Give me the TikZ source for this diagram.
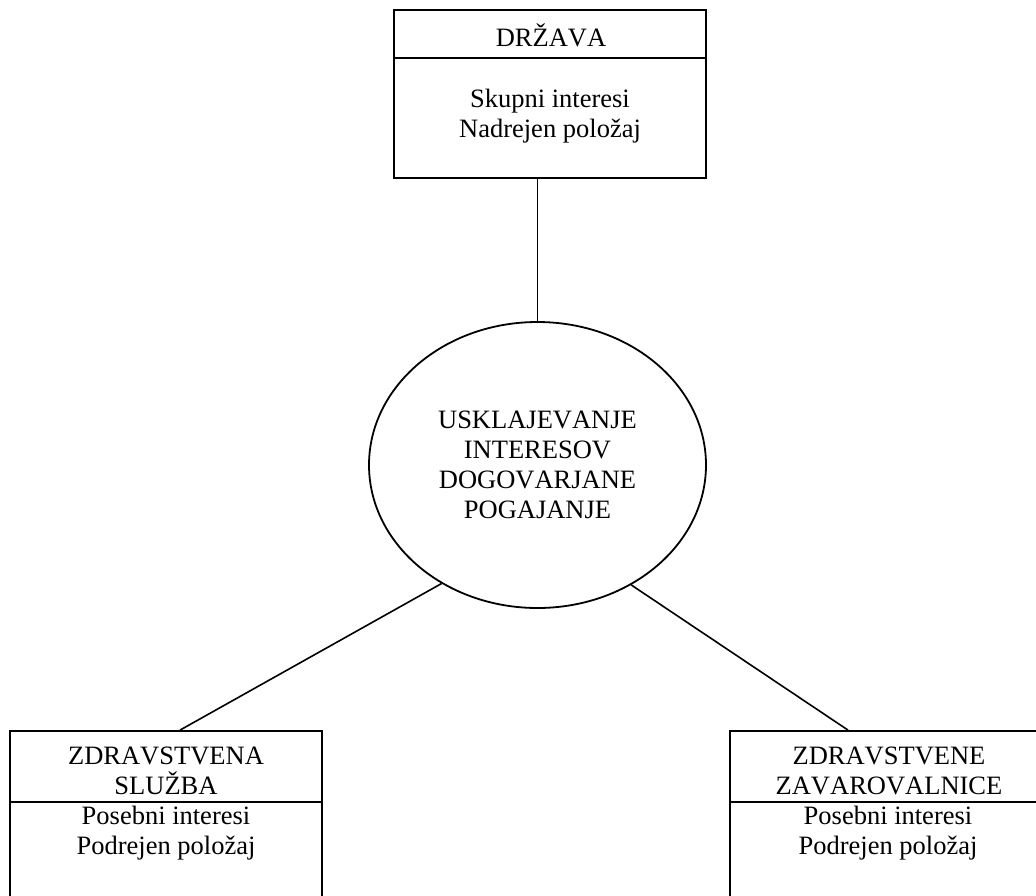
\documentclass[tikz,border=0pt]{standalone}
\usepackage{fontspec}
\setmainfont{Liberation Serif}[Kerning=Off]
\usetikzlibrary{shapes.geometric}

\tikzset{
  frame/.style={draw, line width=1.8pt, rectangle, inner sep=0pt},
  oval/.style={draw, line width=1.8pt, ellipse, inner sep=0pt, align=center,
    minimum width=337pt, minimum height=286pt},
  link/.style={line width=1.6pt},
  label/.style={align=center, inner sep=0pt, font=\fontsize{26.5}{30}\selectfont}
}

\begin{document}
\begin{tikzpicture}[x=1pt, y=-1pt]
  \useasboundingbox (0,0) rectangle (1036,895);
  \clip (0,0) rectangle (1036,895);

  % state box at the top
  \node[frame, minimum width=312pt, minimum height=168pt] (drzava) at (550,94) {};
  \draw[line width=1.8pt] (drzava.west |- 0,58) -- (drzava.east |- 0,58);
  \node[label] (drzavaHead) at (551,35) {DRŽAVA};
  \node[label] (drzavaBody) at (550,116) {Skupni interesi\\Nadrejen položaj};

  % central ellipse
  \node[oval, label] (usk) at (537.5,465) {USKLAJEVANJE\\INTERESOV\\DOGOVARJANE\\POGAJANJE};

  % health service box (bottom left)
  \node[frame, minimum width=312pt, minimum height=200pt] (sluzba) at (166,831) {};
  \draw[line width=1.8pt] (sluzba.west |- 0,802) -- (sluzba.east |- 0,802);
  \node[label] (sluzbaHead) at (166,771) {ZDRAVSTVENA\\SLUŽBA};
  \node[label] (sluzbaBody) at (166,833) {Posebni interesi\\Podrejen položaj};

  % insurers box (bottom right)
  \node[frame, minimum width=312pt, minimum height=200pt] (zav) at (886,831) {};
  \draw[line width=1.8pt] (zav.west |- 0,802) -- (zav.east |- 0,802);
  \node[label] (zavHead) at (889,771) {ZDRAVSTVENE\\ZAVAROVALNICE};
  \node[label] (zavBody) at (888,833) {Posebni interesi\\Podrejen položaj};

  % connectors
  \draw[link] (usk.north) -- (usk.north |- drzava.south);
  \draw[link] (usk.231.5) -- ([xshift=14pt]sluzba.north);
  \draw[link] (usk.308.5) -- ([xshift=-38pt]zav.north);
\end{tikzpicture}
\end{document}
